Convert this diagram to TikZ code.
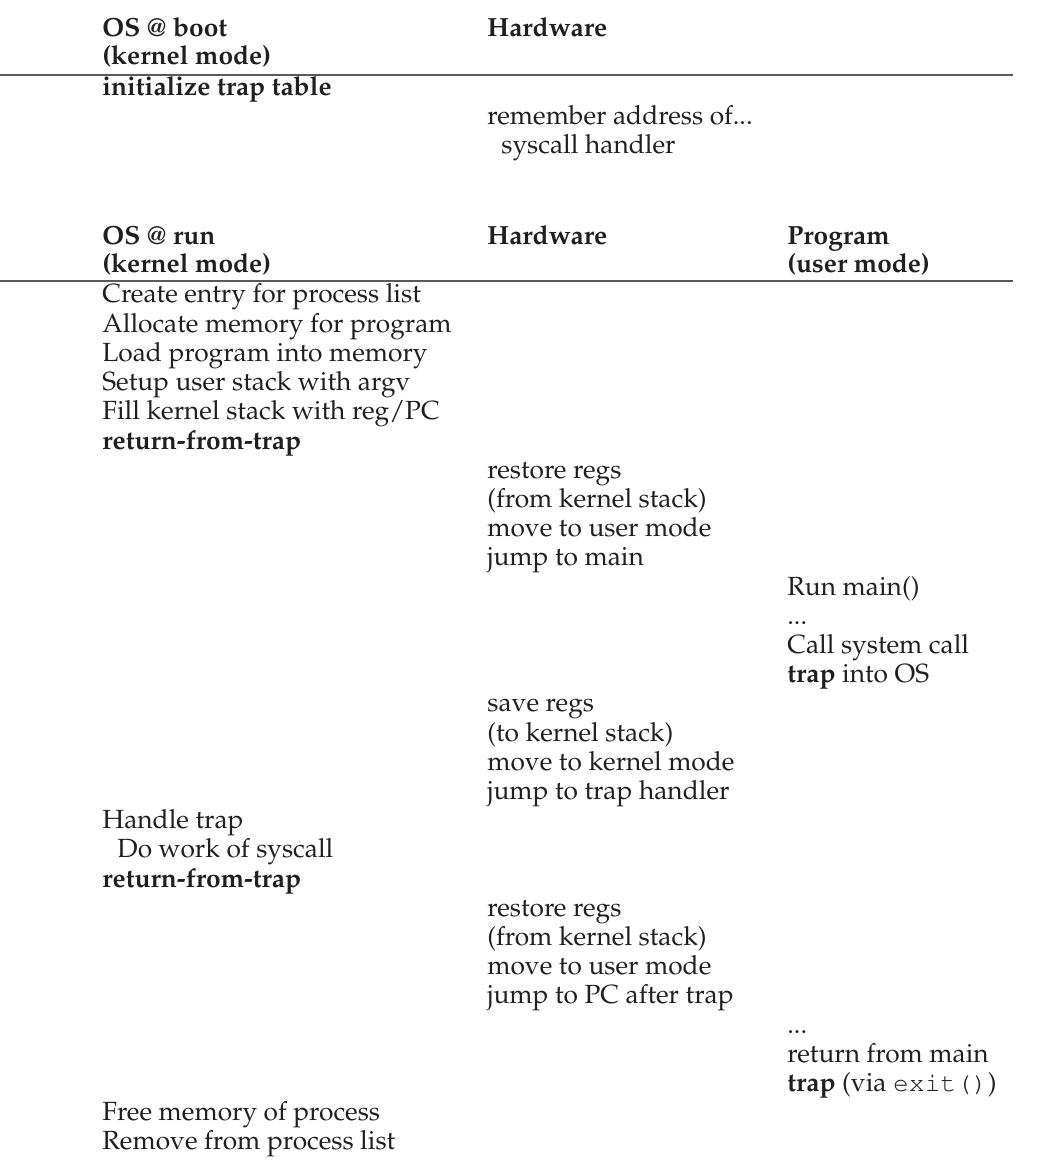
\documentclass[tikz,border=0pt]{standalone}
\usepackage[T1]{fontenc}
\usepackage{mathpazo}
\usepackage{courier}
\begin{document}
\begin{tikzpicture}[x=0.5pt,y=-0.5pt,
  txt/.style={anchor=base west,inner sep=0pt,text=black!88,font=\fontsize{13.15}{16}\selectfont},
  hd/.style={txt,font=\fontsize{13.15}{16}\selectfont\bfseries},
  rulel/.style={draw=black!65,line width=0.7pt}]
\useasboundingbox (0,0) rectangle (1060,1160);
% top table
\node[hd] (h1a) at (102,37) {OS @ boot};
\node[hd] (h1b) at (102,65) {(kernel mode)};
\node[hd] (h1c) at (487,37) {Hardware};
\coordinate (r1l) at (0,75);
\coordinate (r1r) at (1013,75);
\draw[rulel] (r1l) -- (r1r);
\node[hd] (b1) at (102,96) {initialize trap table};
\node[txt] (b2) at (487,125) {remember address of...};
\node[txt] (b3) at (501,154) {syscall handler};
% second table header
\node[hd] (h2a) at (102,245) {OS @ run};
\node[hd] (h2b) at (102,273) {(kernel mode)};
\node[hd] (h2c) at (487,245) {Hardware};
\node[hd] (h2d) at (787,245) {Program};
\node[hd] (h2e) at (787,273) {(user mode)};
\coordinate (r2l) at (0,281);
\coordinate (r2r) at (1013,281);
\draw[rulel] (r2l) -- (r2r);
% rows: baseline 303 + 29.2 k
\node[txt] (k0) at (102,303.0) {Create entry for process list};
\node[txt] (k1) at (102,332.2) {Allocate memory for program};
\node[txt] (k2) at (102,361.4) {Load program into memory};
\node[txt] (k3) at (102,390.6) {Setup user stack with argv};
\node[txt] (k4) at (102,419.8) {Fill kernel stack with reg/PC};
\node[hd]  (k5) at (102,449.0) {return-from-trap};
\node[txt] (k6) at (487,478.2) {restore regs};
\node[txt] (k7) at (487,507.4) {(from kernel stack)};
\node[txt] (k8) at (487,536.6) {move to user mode};
\node[txt] (k9) at (487,565.8) {jump to main};
\node[txt] (k10) at (787,595.0) {Run main()};
\node[txt] (k11) at (787,624.2) {...};
\node[txt] (k12) at (787,653.4) {Call system call};
\node[txt] (k13) at (787,682.6) {\textbf{trap} into OS};
\node[txt] (k14) at (487,711.8) {save regs};
\node[txt] (k15) at (487,741.0) {(to kernel stack)};
\node[txt] (k16) at (487,770.2) {move to kernel mode};
\node[txt] (k17) at (487,799.4) {jump to trap handler};
\node[txt] (k18) at (102,828.6) {Handle trap};
\node[txt] (k19) at (117,857.8) {Do work of syscall};
\node[hd]  (k20) at (102,887.0) {return-from-trap};
\node[txt] (k21) at (487,916.2) {restore regs};
\node[txt] (k22) at (487,945.4) {(from kernel stack)};
\node[txt] (k23) at (487,974.6) {move to user mode};
\node[txt] (k24) at (487,1003.8) {jump to PC after trap};
\node[txt] (k25) at (787,1033.0) {...};
\node[txt] (k26) at (787,1062.2) {return from main};
\node[txt] (k27) at (787,1091.4) {\textbf{trap} (via \texttt{exit()})};
\node[txt] (k28) at (102,1120.6) {Free memory of process};
\node[txt] (k29) at (102,1149.8) {Remove from process list};
\end{tikzpicture}
\end{document}
